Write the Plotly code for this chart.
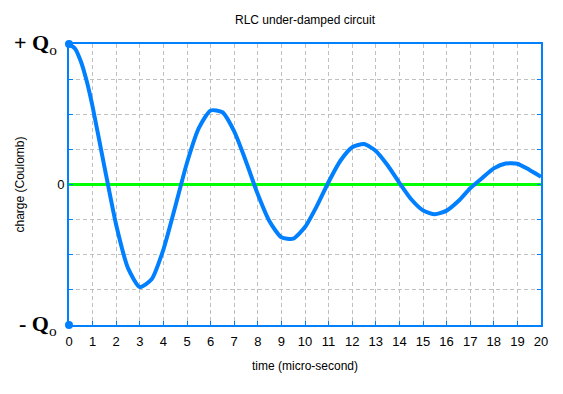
import plotly.graph_objects as go

time_us = [0, 0.25, 0.5, 0.75, 1, 1.5, 2, 2.5, 3, 3.5, 4, 4.5, 5, 5.5, 6, 6.5, 7, 7.5, 8, 8.5, 9, 9.5,
           10, 10.5, 11, 11.5, 12, 12.5, 13, 13.5, 14, 14.5, 15, 15.5, 16, 16.5, 17, 17.5,
           18, 18.5, 19, 19.5, 20]
charge = [1.000, 0.968, 0.877, 0.736, 0.554, 0.128, -0.288, -0.595, -0.730, -0.675, -0.463, -0.159,
          0.155, 0.401, 0.527, 0.514, 0.378, 0.164, -0.070, -0.264, -0.376, -0.386,
          -0.303, -0.154, 0.018, 0.169, 0.265, 0.288, 0.239, 0.137, 0.012, -0.105,
          -0.184, -0.212, -0.186, -0.118, -0.027, 0.045, 0.115, 0.150, 0.148, 0.105, 0.055]
endpoint_t = [0, 0]
endpoint_q = [1, -1]
x_ticks = list(range(0, 21))
y_ticks = [-1, -0.75, -0.5, -0.25, 0, 0.25, 0.5, 0.75, 1]
y_labels = ["", "", "", "", "0", "", "", "", ""]

blue = "rgb(0,128,255)"
font = "Liberation Sans, Arial, sans-serif"

# page body has an 8px margin: figure origin sits at (8, 8)
W, H = 555, 386
L, R, T, B = 61, 22, 36, 69

fig = go.Figure()
fig.add_trace(go.Scatter(x=[0, 20], y=[0, 0], mode="lines",
                         line=dict(color="rgb(0,255,0)", width=3), cliponaxis=False,
                         hoverinfo="skip"))
fig.add_trace(go.Scatter(x=time_us, y=charge, mode="lines",
                         line=dict(color=blue, width=4, shape="spline", smoothing=0.6),
                         cliponaxis=False))
fig.add_trace(go.Scatter(x=endpoint_t, y=endpoint_q, mode="markers",
                         marker=dict(color=blue, size=8), cliponaxis=False))

fig.update_layout(
    width=W, height=H,
    margin=dict(l=L, r=R, t=T, b=B),
    paper_bgcolor="white", plot_bgcolor="white",
    showlegend=False,
    font=dict(family=font, size=12, color="black"),
    title=dict(text="RLC under-damped circuit", x=(L + (W - R)) / 2 / W, xanchor="center",
               y=1 - 12 / H, yanchor="middle", font=dict(size=12)),
)
fig.update_xaxes(range=[0, 20], tickvals=x_ticks, ticks="inside", ticklen=4, tickcolor=blue,
                 showline=True, linecolor=blue, linewidth=2, mirror=True,
                 showgrid=True, gridcolor="rgb(192,192,192)", griddash="4px,3px", gridwidth=1,
                 zeroline=False, tickfont=dict(size=13), ticklabelstandoff=3,
                 title=dict(text="time (micro-second)", font=dict(size=12), standoff=14))
fig.update_yaxes(range=[-1, 1], tickvals=y_ticks, ticktext=y_labels, ticks="inside", ticklen=4,
                 tickcolor=blue, showline=True, linecolor=blue, linewidth=2, mirror="ticks",
                 showgrid=True, gridcolor="rgb(192,192,192)", griddash="4px,3px", gridwidth=1,
                 zeroline=False, tickfont=dict(size=13),
                 title=dict(text="charge (Coulomb)", font=dict(size=12), standoff=30))

serif = dict(family="Liberation Serif, Times New Roman, serif", size=22, color="black")
fig.add_annotation(text="<b>+ Q</b><sub>o</sub>", xref="paper", yref="y", x=0, y=1, xshift=-10,
                   xanchor="right", yanchor="middle", showarrow=False, font=serif)
fig.add_annotation(text="<b>- Q</b><sub>o</sub>", xref="paper", yref="y", x=0, y=-1, xshift=-10,
                   xanchor="right", yanchor="middle", showarrow=False, font=serif)

fig.write_html("out.html")
